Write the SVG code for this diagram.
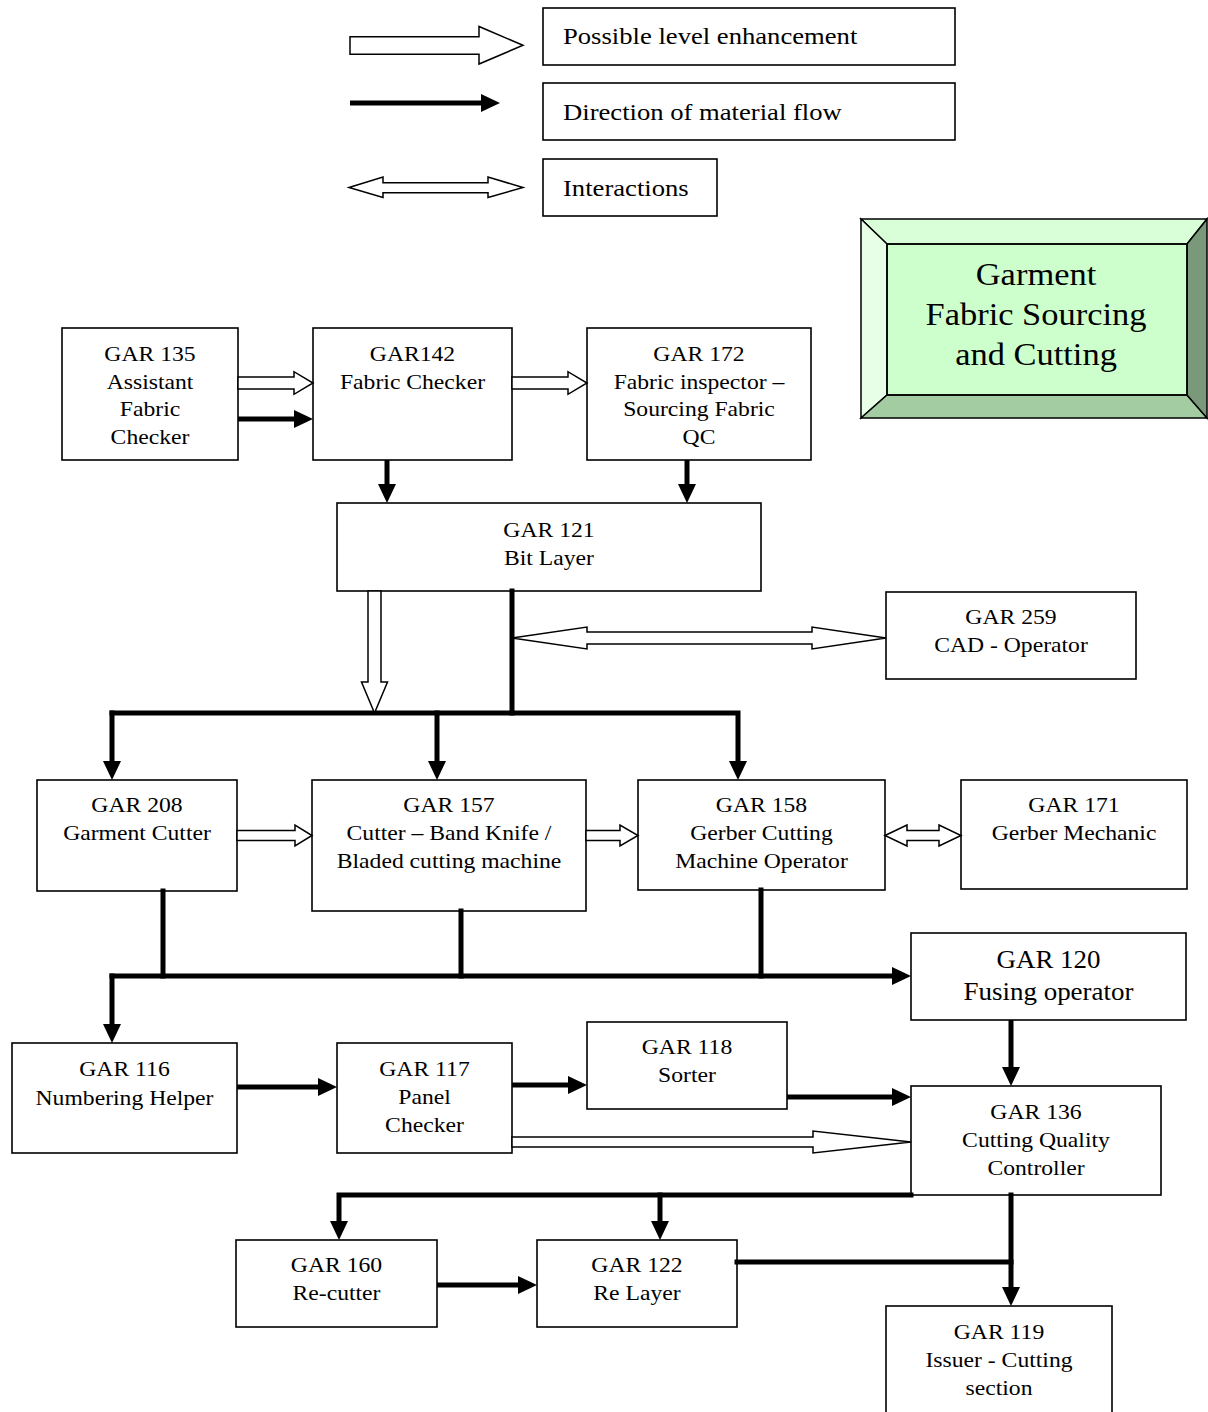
<svg xmlns="http://www.w3.org/2000/svg" width="1208" height="1412" viewBox="0 0 1208 1412">
<style>
.box{fill:#fff;stroke:#000;stroke-width:1.6}
.t{font-family:"Liberation Serif","Times New Roman",serif;font-size:21.5px;fill:#000;text-anchor:middle}
.tb{font-family:"Liberation Serif","Times New Roman",serif;font-size:24.5px;fill:#000;text-anchor:middle}
.lg{font-family:"Liberation Serif","Times New Roman",serif;font-size:24px;fill:#000}
.tt{font-family:"Liberation Serif","Times New Roman",serif;font-size:30.5px;fill:#000;text-anchor:middle}
.flow{fill:none;stroke:#000;stroke-width:5;stroke-linecap:square;stroke-linejoin:miter}
.flow.a{marker-end:url(#ah)}
.flow.b{stroke-linecap:butt}
.hol{fill:#fff;stroke:#000;stroke-width:1.5;stroke-linejoin:miter}
.bev{stroke:#000;stroke-width:1.5;stroke-linejoin:miter}
</style>
<defs>
<marker id="ah" markerUnits="userSpaceOnUse" markerWidth="19" markerHeight="18" viewBox="0 0 19 18" refX="0" refY="9" orient="auto"><path d="M0,0 L19,9 L0,18 Z" fill="#000"/></marker>
</defs>
<rect width="1208" height="1412" fill="#fff"/>

<g id="legend">
<g id="legend-enh">
<polygon class="hol" points="350,36.7 479,36.7 479,26.5 523,45.3 479,64 479,54.3 350,54.3"/>
<rect class="box" x="543" y="8" width="412" height="57"/>
<text class="lg" transform="translate(563 0) scale(1.11 1)" x="0" y="44">Possible level enhancement</text>
</g>
<g id="legend-flow">
<path class="flow a b" d="M350,103 H481"/>
<rect class="box" x="543" y="83" width="412" height="57"/>
<text class="lg" transform="translate(563 0) scale(1.11 1)" x="0" y="120">Direction of material flow</text>
</g>
<g id="legend-int">
<polygon class="hol" points="349,187.5 383,177 383,182.7 488,182.7 488,177 523,187.5 488,197.5 488,192.7 383,192.7 383,197.5"/>
<rect class="box" x="543" y="159" width="174" height="57"/>
<text class="lg" transform="translate(563 0) scale(1.11 1)" x="0" y="196">Interactions</text>
</g>
</g>

<g id="title">
<rect x="887" y="244" width="300" height="151" fill="#ccffcc"/>
<polygon class="bev" fill="#d9ffd9" points="861,219 1207,219 1187,244 887,244"/>
<polygon class="bev" fill="#e6ffe6" points="861,219 887,244 887,395 861,418"/>
<polygon class="bev" fill="#a3cca3" points="861,418 887,395 1187,395 1207,418"/>
<polygon class="bev" fill="#7a997a" points="1207,219 1207,418 1187,395 1187,244"/>
<rect x="887" y="244" width="300" height="151" fill="none" stroke="#000" stroke-width="1.5"/>
<text class="tt" transform="translate(1036 0) scale(1.13 1)" x="0" y="285">Garment</text>
<text class="tt" transform="translate(1036 0) scale(1.13 1)" x="0" y="325">Fabric Sourcing</text>
<text class="tt" transform="translate(1036 0) scale(1.13 1)" x="0" y="365">and Cutting</text>
</g>

<g id="n135"><rect class="box" x="62" y="328" width="176" height="132"/>
<text class="t" transform="translate(150 0) scale(1.1 1)" y="361">GAR 135</text>
<text class="t" transform="translate(150 0) scale(1.1 1)" y="389">Assistant</text>
<text class="t" transform="translate(150 0) scale(1.1 1)" y="416.5">Fabric</text>
<text class="t" transform="translate(150 0) scale(1.1 1)" y="444">Checker</text></g>

<g id="n142"><rect class="box" x="313" y="328" width="199" height="132"/>
<text class="t" transform="translate(412.5 0) scale(1.1 1)" y="361">GAR142</text>
<text class="t" transform="translate(412.5 0) scale(1.1 1)" y="389">Fabric Checker</text></g>

<g id="n172"><rect class="box" x="587" y="328" width="224" height="132"/>
<text class="t" transform="translate(699 0) scale(1.1 1)" y="361">GAR 172</text>
<text class="t" transform="translate(699 0) scale(1.1 1)" y="389">Fabric inspector –</text>
<text class="t" transform="translate(699 0) scale(1.1 1)" y="416.5">Sourcing Fabric</text>
<text class="t" transform="translate(699 0) scale(1.1 1)" y="444">QC</text></g>

<g id="n121"><rect class="box" x="337" y="503" width="424" height="88"/>
<text class="t" transform="translate(549 0) scale(1.1 1)" y="537">GAR 121</text>
<text class="t" transform="translate(549 0) scale(1.1 1)" y="565">Bit Layer</text></g>

<g id="n259"><rect class="box" x="886" y="592" width="250" height="87"/>
<text class="t" transform="translate(1011 0) scale(1.1 1)" y="624">GAR 259</text>
<text class="t" transform="translate(1011 0) scale(1.1 1)" y="652">CAD - Operator</text></g>

<g id="n208"><rect class="box" x="37" y="780" width="200" height="111"/>
<text class="t" transform="translate(137 0) scale(1.1 1)" y="812">GAR 208</text>
<text class="t" transform="translate(137 0) scale(1.1 1)" y="840">Garment Cutter</text></g>

<g id="n157"><rect class="box" x="312" y="780" width="274" height="131"/>
<text class="t" transform="translate(449 0) scale(1.1 1)" y="812">GAR 157</text>
<text class="t" transform="translate(449 0) scale(1.1 1)" y="840">Cutter – Band Knife /</text>
<text class="t" transform="translate(449 0) scale(1.1 1)" y="868">Bladed cutting machine</text></g>

<g id="n158"><rect class="box" x="638" y="780" width="247" height="110"/>
<text class="t" transform="translate(761.5 0) scale(1.1 1)" y="812">GAR 158</text>
<text class="t" transform="translate(761.5 0) scale(1.1 1)" y="840">Gerber Cutting</text>
<text class="t" transform="translate(761.5 0) scale(1.1 1)" y="868">Machine Operator</text></g>

<g id="n171"><rect class="box" x="961" y="780" width="226" height="109"/>
<text class="t" transform="translate(1074 0) scale(1.1 1)" y="812">GAR 171</text>
<text class="t" transform="translate(1074 0) scale(1.1 1)" y="840">Gerber Mechanic</text></g>

<g id="n120"><rect class="box" x="911" y="933" width="275" height="87"/>
<text class="tb" transform="translate(1048.5 0) scale(1.1 1)" y="968">GAR 120</text>
<text class="tb" transform="translate(1048.5 0) scale(1.1 1)" y="1000">Fusing operator</text></g>

<g id="n116"><rect class="box" x="12" y="1043" width="225" height="110"/>
<text class="t" transform="translate(124.5 0) scale(1.1 1)" y="1076">GAR 116</text>
<text class="t" transform="translate(124.5 0) scale(1.1 1)" y="1105">Numbering Helper</text></g>

<g id="n117"><rect class="box" x="337" y="1043" width="175" height="110"/>
<text class="t" transform="translate(424.5 0) scale(1.1 1)" y="1076">GAR 117</text>
<text class="t" transform="translate(424.5 0) scale(1.1 1)" y="1104">Panel</text>
<text class="t" transform="translate(424.5 0) scale(1.1 1)" y="1132">Checker</text></g>

<g id="n118"><rect class="box" x="587" y="1022" width="200" height="87"/>
<text class="t" transform="translate(687 0) scale(1.1 1)" y="1054">GAR 118</text>
<text class="t" transform="translate(687 0) scale(1.1 1)" y="1082">Sorter</text></g>

<g id="n136"><rect class="box" x="911" y="1086" width="250" height="109"/>
<text class="t" transform="translate(1036 0) scale(1.1 1)" y="1119">GAR 136</text>
<text class="t" transform="translate(1036 0) scale(1.1 1)" y="1147">Cutting Quality</text>
<text class="t" transform="translate(1036 0) scale(1.1 1)" y="1175">Controller</text></g>

<g id="n160"><rect class="box" x="236" y="1240" width="201" height="87"/>
<text class="t" transform="translate(336.5 0) scale(1.1 1)" y="1272">GAR 160</text>
<text class="t" transform="translate(336.5 0) scale(1.1 1)" y="1300">Re-cutter</text></g>

<g id="n122"><rect class="box" x="537" y="1240" width="200" height="87"/>
<text class="t" transform="translate(637 0) scale(1.1 1)" y="1272">GAR 122</text>
<text class="t" transform="translate(637 0) scale(1.1 1)" y="1300">Re Layer</text></g>

<g id="n119"><rect class="box" x="886" y="1306" width="226" height="120"/>
<text class="t" transform="translate(999 0) scale(1.1 1)" y="1339">GAR 119</text>
<text class="t" transform="translate(999 0) scale(1.1 1)" y="1367">Issuer - Cutting</text>
<text class="t" transform="translate(999 0) scale(1.1 1)" y="1395">section</text></g>

<g id="connectors">
<polygon class="hol" points="238,377 294,377 294,371.7 313,383 294,394.3 294,389 238,389"/>
<polygon class="hol" points="512,377 568,377 568,371.7 587,383 568,394.3 568,389 512,389"/>
<path class="flow a b" d="M238,419 H294"/>
<path class="flow a b" d="M387,460 V484"/>
<path class="flow a b" d="M687,460 V484"/>
<path class="flow" d="M512,591 V713"/>
<path class="flow a" d="M112,713 H738 V761"/>
<path class="flow a" d="M112,713 V761"/>
<path class="flow a" d="M437,713 V761"/>
<polygon class="hol" points="368,591 381,591 381,682 387.5,682 374.5,713 361.5,682 368,682"/>
<polygon class="hol" points="512,638 587,627 587,632 812,632 812,627 886,638 812,649 812,644 587,644 587,649"/>
<polygon class="hol" points="237,830.5 295,830.5 295,825 312,835.5 295,846 295,840.5 237,840.5"/>
<polygon class="hol" points="586,830.5 620,830.5 620,825 638,835.5 620,846 620,840.5 586,840.5"/>
<polygon class="hol" points="885,835.5 907,825 907,830.5 939,830.5 939,825 961,835.5 939,846 939,840.5 907,840.5 907,846"/>
<path class="flow" d="M163,891 V976"/>
<path class="flow" d="M461,911 V976"/>
<path class="flow" d="M761,890 V976"/>
<path class="flow a" d="M112,976 H892"/>
<path class="flow a" d="M112,976 V1024"/>
<path class="flow a b" d="M237,1087 H318"/>
<path class="flow a b" d="M512,1085 H568"/>
<path class="flow a b" d="M787,1097 H892"/>
<polygon class="hol" points="512,1137 813,1137 813,1131 911,1142 813,1153 813,1147 512,1147"/>
<path class="flow a b" d="M1011,1020 V1067"/>
<path class="flow a" d="M911,1195 H339 V1221"/>
<path class="flow a" d="M660,1195 V1221"/>
<path class="flow a b" d="M437,1285 H518"/>
<path class="flow" d="M737,1262 H1011"/>
<path class="flow a" d="M1011,1195 V1287"/>
</g>
</svg>
